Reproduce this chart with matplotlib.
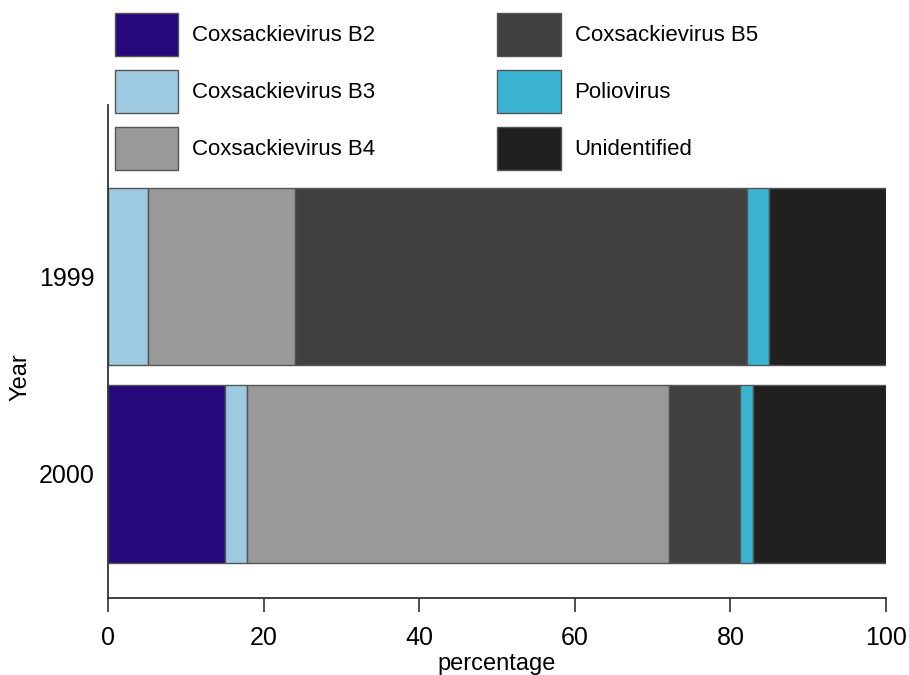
import matplotlib
matplotlib.use("Agg")
import matplotlib.pyplot as plt
import numpy as np

years = ["1999", "2000"]
categories = ["Coxsackievirus B2", "Coxsackievirus B3", "Coxsackievirus B4",
              "Coxsackievirus B5", "Poliovirus", "Unidentified"]
b2 = [0.0, 15.0]
b3 = [5.1, 2.9]
b4 = [18.9, 54.2]
b5 = [58.1, 9.1]
polio = [2.9, 1.7]
unidentified = [15.0, 17.1]
series = [b2, b3, b4, b5, polio, unidentified]
colors = ["#25087a", "#9ecae1", "#999999", "#404040", "#3bb4d3", "#202020"]

plt.rcParams['font.family'] = ['Liberation Sans', 'DejaVu Sans']

fig = plt.figure(figsize=(9.09, 6.75), dpi=100)
W, H = 909, 675
ax = fig.add_axes([108 / W, 1 - 598 / H, (886 - 108) / W, (598 - 105) / H])

ypos = [1, 0]  # 1999 on top
left = np.zeros(2)
handles = []
for name, vals, c in zip(categories, series, colors):
    v = np.array(vals)
    h = ax.barh(ypos, v, left=left, height=0.9, color=c, edgecolor="#555555",
                linewidth=1.0, label=name)
    handles.append(h)
    left = left + v

ax.set_xlim(0, 100)
ax.set_ylim(-0.628, 1.868)
ax.set_yticks(ypos)
ax.set_yticklabels(years)
ax.set_xticks([0, 20, 40, 60, 80, 100])
ax.tick_params(axis="y", length=0, labelsize=18, pad=9.5)
ax.tick_params(axis="x", length=10, width=1.2, labelsize=18, pad=10, color="#333333")
for s in ["top", "right"]:
    ax.spines[s].set_visible(False)
for s in ["left", "bottom"]:
    ax.spines[s].set_color("#333333")
    ax.spines[s].set_linewidth(1.3)
ax.set_ylabel("Year", fontsize=17)
ax.yaxis.set_label_coords(-0.098, 0.448)
ax.set_xlabel("percentage", fontsize=17, labelpad=2)

leg = fig.legend(handles=handles, labels=categories, ncol=2,
                 loc="upper left", bbox_to_anchor=(115 / W, 1 - 13 / H),
                 frameon=False, fontsize=16, handlelength=2.84, handleheight=2.6,
                 handletextpad=0.63, labelspacing=0.63, columnspacing=5.5,
                 borderpad=0, borderaxespad=0)

fig.savefig("out.png", dpi=100)
